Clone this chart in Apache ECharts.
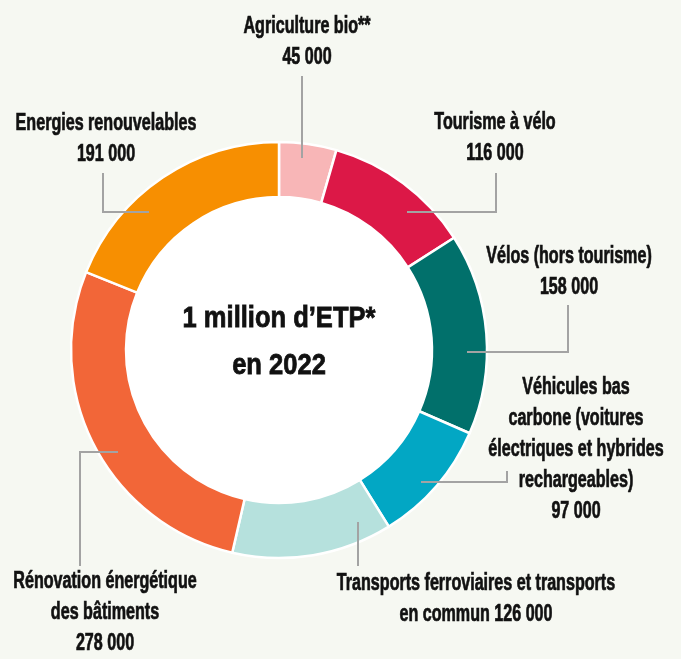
<!DOCTYPE html>
<html>
<head>
<meta charset="utf-8">
<script src="https://cdn.jsdelivr.net/npm/echarts@6/dist/echarts.min.js"></script>
<style>
  html, body { margin: 0; padding: 0; background: #f6f8f2; }
  #chart { width: 681px; height: 659px; }
</style>
</head>
<body>
<div id="chart"></div>
<script>
// données
var categories = [
  'Agriculture bio**',
  'Tourisme à vélo',
  'Vélos (hors tourisme)',
  'Véhicules bas\ncarbone (voitures\nélectriques et hybrides\nrechargeables)',
  'Transports ferroviaires et transports\nen commun',
  'Rénovation énergétique\ndes bâtiments',
  'Energies renouvelables'
];
var values = [45000, 116000, 158000, 97000, 126000, 278000, 191000];
var centerLines = ['1 million d’ETP*', 'en 2022'];

(function () {
  var myChart = echarts.init(document.getElementById('chart'));
  var myColor = ['#f8b6b7', '#dc1847', '#01706b', '#02a7c4', '#b6e1dd', '#f26638', '#f78f01'];
  var FONT = '"Liberation Sans", Arial, sans-serif';

  // position des étiquettes et des traits de rappel
  var labelPos = [
    { x: 307, y: 42,  line: [[302, 158], [302, 76]] },
    { x: 495, y: 138, line: [[407, 212], [496, 212], [496, 173]] },
    { x: 569, y: 272, line: [[467, 352], [568, 352], [568, 305]] },
    { x: 576, y: 450, line: [[421, 482], [507, 482], [507, 471]] },
    { x: 476, y: 599, line: [[358, 522], [358, 566]] },
    { x: 105, y: 613, line: [[118, 452], [80, 452], [80, 566]] },
    { x: 106, y: 139, line: [[149, 212], [103, 212], [103, 173]] }
  ];

  function fmt(v) {
    return String(v).replace(/\B(?=(\d{3})+(?!\d))/g, ' ');
  }

  var data = categories.map(function (name, i) {
    return { name: name, value: values[i], itemStyle: { color: myColor[i] } };
  });

  //traits + étiquettes
  var graphics = [];
  categories.forEach(function (name, i) {
    var pos = labelPos[i];
    var sep = i === 4 ? ' ' : '\n';
    graphics.push({
      type: 'polyline',
      z: 100,
      silent: true,
      shape: { points: pos.line },
      style: { stroke: '#a3a3a3', lineWidth: 2, fill: null }
    });
    graphics.push({
      type: 'text',
      z: 100,
      silent: true,
      x: pos.x,
      y: pos.y,
      scaleX: 0.7,
      style: {
        text: name + sep + fmt(values[i]),
        fontFamily: FONT,
        fontWeight: 'bold',
        fontSize: 23,
        lineHeight: 31,
        fill: '#111',
        stroke: '#111',
        lineWidth: 0.7,
        align: 'center',
        verticalAlign: 'middle'
      }
    });
  });
  graphics.push({
    type: 'text',
    x: 279,
    y: 342,
    z: 100,
    silent: true,
    scaleX: 0.88,
    style: {
      text: centerLines.join('\n'),
      fontFamily: FONT,
      fontWeight: 'bold',
      fontSize: 29,
      lineHeight: 47,
      fill: '#111',
      stroke: '#111',
      lineWidth: 0.8,
      align: 'center',
      verticalAlign: 'middle'
    }
  });

  var option = {
    backgroundColor: '#f6f8f2',
    animation: false,
    graphic: graphics,
    series: [
      {
        type: 'pie',
        silent: true,
        center: [279, 350],
        radius: [0, 153],
        label: { show: false },
        labelLine: { show: false },
        data: [{ value: 1, itemStyle: { color: '#ffffff' } }]
      },
      {
        type: 'pie',
        silent: true,
        center: [279, 350],
        radius: [153, 208],
        startAngle: 90,
        clockwise: true,
        itemStyle: {
          borderColor: '#ffffff',
          borderWidth: 2.5
        },
        label: { show: false },
        labelLine: { show: false },
        data: data
      }
    ]
  };

  myChart.setOption(option);
  window.addEventListener('resize', function () {
    myChart.resize();
  });
})();
</script>
</body>
</html>
